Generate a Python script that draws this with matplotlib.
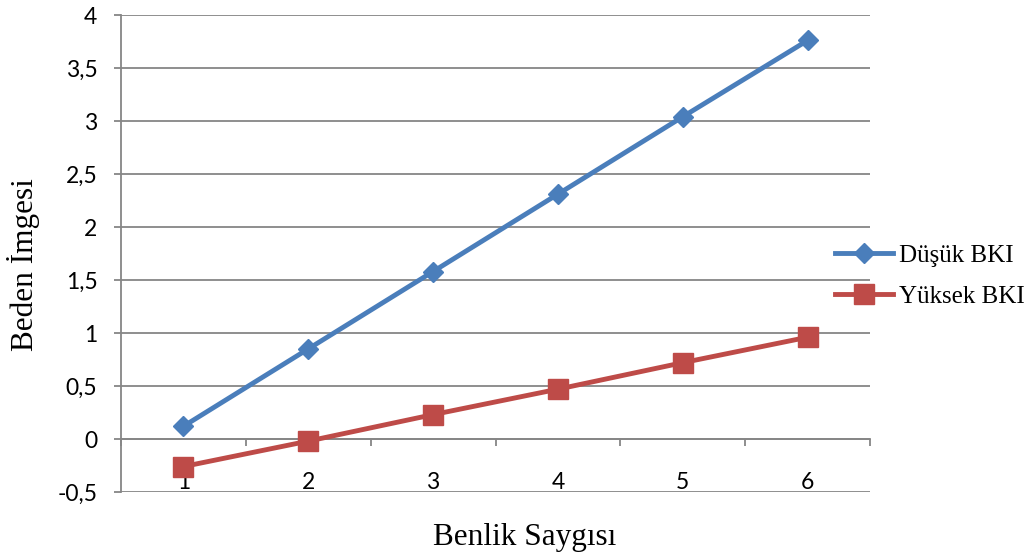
import matplotlib
matplotlib.use("Agg")
import matplotlib.pyplot as plt
from matplotlib.ticker import MultipleLocator, FuncFormatter

categories = ["1", "2", "3", "4", "5", "6"]
dusuk = [0.12, 0.85, 1.58, 2.31, 3.04, 3.76]
yuksek = [-0.26, -0.02, 0.23, 0.47, 0.72, 0.96]
series_names = ["Düşük BKI", "Yüksek BKI"]

fig = plt.figure(figsize=(10.33, 5.57), dpi=100)
ax = fig.add_axes([121/1033, 1-492/557, (870-121)/1033, (492-15)/557])

x = list(range(1, len(categories)+1))
blue = "#4A7EBB"
red = "#BE4B48"
grid = "#868686"

ax.plot(x, dusuk, color=blue, lw=3.5, marker="D", ms=10, label=series_names[0], zorder=3)
ax.plot(x, yuksek, color=red, lw=3.5, marker="s", ms=14, label=series_names[1], zorder=3)

ax.set_xlim(0.5, len(categories)+0.5)
ax.set_ylim(-0.5, 4)
ax.yaxis.set_major_locator(MultipleLocator(0.5))
ax.yaxis.set_major_formatter(FuncFormatter(lambda v, p: ("%g" % v).replace(".", ",")))
ax.grid(axis="y", color=grid, lw=1.3)
ax.set_axisbelow(True)

for s in ["top", "right"]:
    ax.spines[s].set_visible(False)
ax.spines["bottom"].set_position(("data", 0))
ax.spines["bottom"].set_color(grid)
ax.spines["bottom"].set_linewidth(1.3)
ax.spines["left"].set_color(grid)
ax.spines["left"].set_linewidth(1.3)

ax.set_xticks(x)
ax.set_xticklabels(categories)
ax.set_xticks([i + 0.5 for i in range(len(categories)+1)], minor=True)
ax.tick_params(axis="x", which="major", length=0, pad=24)
ax.tick_params(axis="x", which="minor", length=5, width=1.3, color=grid, direction="out")
ax.tick_params(axis="y", length=5, width=1.3, color=grid, direction="out", pad=12)
for lab in ax.get_xticklabels() + ax.get_yticklabels():
    lab.set_fontfamily("Lato")
    lab.set_fontsize(16.5)
    lab.set_color("black")

fig.text(525/1033, 1-537/557, "Benlik Saygısı", family="Liberation Serif", fontsize=22.5,
         ha="center", va="center")
fig.text(24/1033, 1-265/557, "Beden İmgesi", family="Liberation Serif", fontsize=22.5,
         ha="center", va="center", rotation=90)

leg = fig.legend(loc="center left", bbox_to_anchor=(835/1033, 1-276/557), frameon=False,
                 prop={"family": "Liberation Serif", "size": 18}, handlelength=2.3,
                 handletextpad=0.25, labelspacing=0.75, borderpad=0, borderaxespad=0)

fig.savefig("out.png", dpi=100)
